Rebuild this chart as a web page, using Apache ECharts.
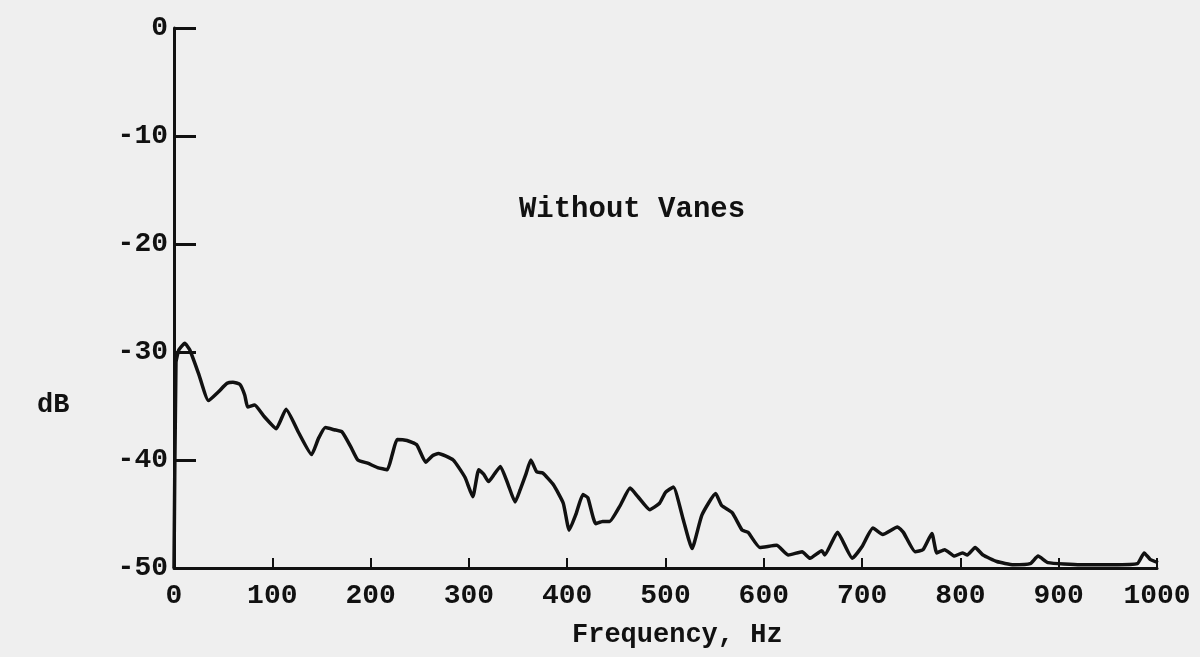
<!DOCTYPE html>
<html>
<head>
<meta charset="utf-8">
<script src="https://cdn.jsdelivr.net/npm/echarts@6/dist/echarts.min.js"></script>
<style>
html,body{margin:0;padding:0;background:#efefef;}
#chart{width:1200px;height:657px;}
</style>
</head>
<body>
<div id="chart"></div>
<script>
const freq = [0,2,5,11,16,25,35,45,54,60,67,72,75,82,92,104,114,127,140,147,154,163,171,180,187,197,207,217,222,227,237,247,256,263,269,284,296,304,310,315,320,326,332,340,347,352,358,363,369,375,386,396,402,409,416,421,429,436,443,454,464,472,484,494,500,508,518,527,537,551,557,568,578,584,596,613,625,639,647,659,662,675,690,700,711,721,736,742,754,762,771,776,784,794,802,807,815,823,837,854,871,879,889,922,955,980,987,993,1001];
const dB = [-50,-31,-29.8,-29.2,-29.8,-32,-34.5,-33.7,-32.9,-32.8,-33,-34,-35.1,-34.9,-36,-37.1,-35.3,-37.5,-39.5,-38,-37,-37.2,-37.4,-38.8,-40,-40.3,-40.7,-40.9,-39.5,-38.1,-38.2,-38.6,-40.2,-39.6,-39.4,-40,-41.6,-43.4,-40.9,-41.3,-42,-41.3,-40.6,-42.3,-43.9,-42.8,-41.3,-40,-41.1,-41.2,-42.3,-44,-46.5,-45,-43.2,-43.5,-45.9,-45.7,-45.7,-44.2,-42.6,-43.4,-44.6,-44,-43,-42.5,-45.5,-48.2,-45.1,-43.1,-44.2,-44.9,-46.5,-46.7,-48.1,-47.9,-48.8,-48.5,-49.1,-48.4,-48.8,-46.7,-49.1,-48,-46.3,-46.9,-46.2,-46.7,-48.5,-48.3,-46.8,-48.6,-48.3,-48.9,-48.6,-48.8,-48.1,-48.8,-49.4,-49.7,-49.6,-48.9,-49.5,-49.7,-49.7,-49.6,-48.6,-49.2,-49.5];
const titleText = 'Without Vanes';
const yName = 'dB';
const xName = 'Frequency, Hz';

const FONT = '"Liberation Mono", "DejaVu Sans Mono", monospace';
const INK = '#111';
const chart = echarts.init(document.getElementById('chart'));
chart.setOption({
  backgroundColor: '#efefef',
  animation: false,
  title: {
    text: titleText,
    left: 627, top: 190, textAlign: 'center',
    textStyle: {fontFamily: FONT, fontSize: 29, fontWeight: 'bold', color: INK}
  },
  graphic: [
    {type: 'text', left: 37, top: 392, style: {text: yName, font: 'bold 27px ' + FONT, fill: INK}},
    {type: 'text', left: 572, top: 622, style: {text: xName, font: 'bold 27px ' + FONT, fill: INK}}
  ],
  grid: {left: 174, right: 43, top: 28, bottom: 89},
  xAxis: {
    type: 'value', min: 0, max: 1000, interval: 100,
    axisLine: {onZero: false, lineStyle: {color: INK, width: 3}},
    axisTick: {inside: true, length: 10, lineStyle: {color: INK, width: 2}},
    axisLabel: {margin: 14, fontFamily: FONT, fontSize: 28, fontWeight: 'bold', color: INK,
      formatter: v => String(v)},
    splitLine: {show: false}
  },
  yAxis: {
    type: 'value', min: -50, max: 0, interval: 10,
    axisLine: {show: true, onZero: false, lineStyle: {color: INK, width: 3}},
    axisTick: {show: true, inside: true, length: 22, lineStyle: {color: INK, width: 3}},
    axisLabel: {margin: 6, fontFamily: FONT, fontSize: 28, fontWeight: 'bold', color: INK, padding: [0,0,8,0],
      formatter: v => String(v)},
    splitLine: {show: false}
  },
  series: [{
    type: 'line',
    data: freq.map((f, i) => [f, dB[i]]),
    showSymbol: false,
    smooth: 0.15,
    lineStyle: {color: INK, width: 3.5},
    clip: false
  }]
});
</script>
</body>
</html>
